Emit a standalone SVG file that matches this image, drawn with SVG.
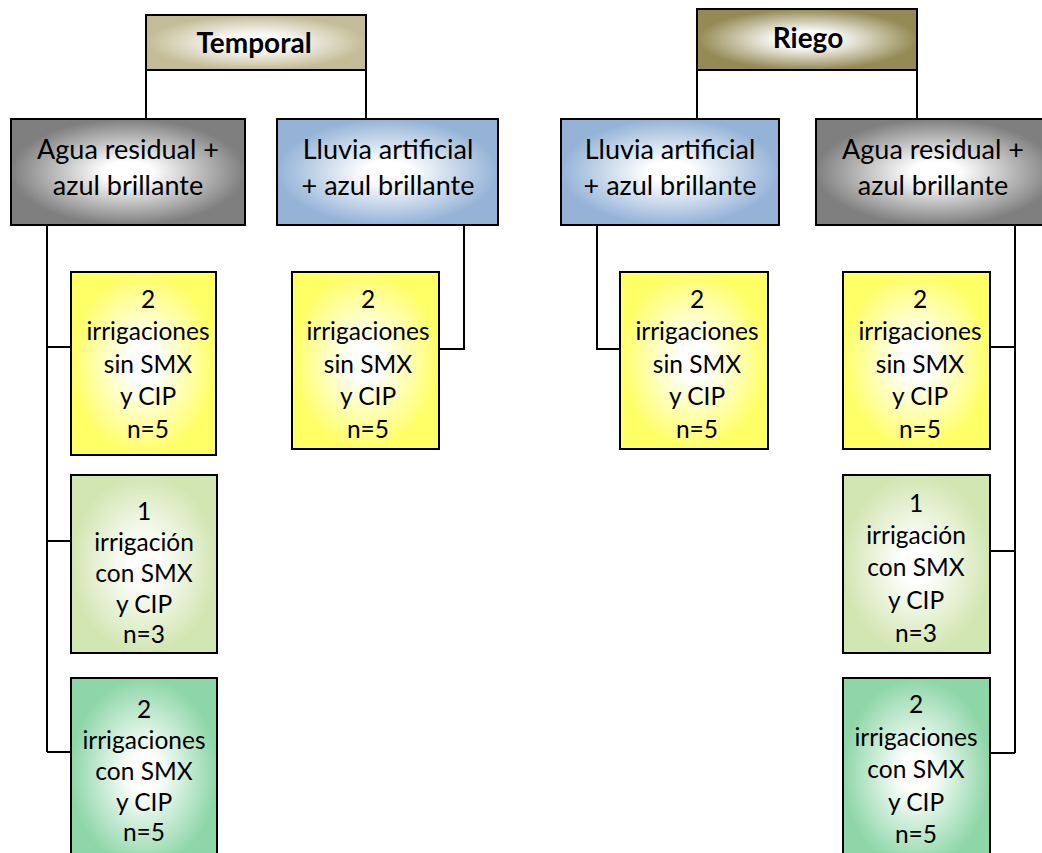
<svg xmlns="http://www.w3.org/2000/svg" width="1042" height="853" viewBox="0 0 1042 853">
<style>
.box{stroke:#000;stroke-width:2}
.conn{fill:none;stroke:#000;stroke-width:2}
text{font-family:Lato,"Open Sans",sans-serif;fill:#000;text-anchor:middle}
.big{font-size:27px}
.small{font-size:24.5px}
.title{font-size:28px;font-weight:bold}
</style>
<defs>
<radialGradient id="gTan" cx="0.5" cy="0.5" r="0.5"><stop offset="0.25" stop-color="#ffffff"/><stop offset="1" stop-color="#c4bc96"/></radialGradient>
<radialGradient id="gOlive" cx="0.5" cy="0.5" r="0.5"><stop offset="0.25" stop-color="#ffffff"/><stop offset="1" stop-color="#948a54"/></radialGradient>
<radialGradient id="gGray" cx="0.5" cy="0.5" r="0.5"><stop offset="0.2" stop-color="#ffffff"/><stop offset="1" stop-color="#7f7f7f"/></radialGradient>
<radialGradient id="gBlue" cx="0.5" cy="0.5" r="0.5"><stop offset="0.2" stop-color="#ffffff"/><stop offset="1" stop-color="#95b3d7"/></radialGradient>
<radialGradient id="gYellow" cx="0.5" cy="0.5" r="0.5"><stop offset="0.2" stop-color="#ffffff"/><stop offset="1" stop-color="#ffff66"/></radialGradient>
<radialGradient id="gLGreen" cx="0.5" cy="0.5" r="0.5"><stop offset="0.2" stop-color="#ffffff"/><stop offset="1" stop-color="#d2e6b2"/></radialGradient>
<radialGradient id="gGreen" cx="0.5" cy="0.5" r="0.5"><stop offset="0.2" stop-color="#ffffff"/><stop offset="1" stop-color="#8ed6a8"/></radialGradient>
</defs>
<g id="connectors">
<path class="conn" d="M146,70 V119 M366,70 V119"/>
<path class="conn" d="M697,70 V119 M917,70 V119"/>
<path class="conn" d="M47,225 V752 M47,347 H71 M47,541 H71 M47,752 H71"/>
<path class="conn" d="M464,225 V349 H439"/>
<path class="conn" d="M597,225 V349 H620"/>
<path class="conn" d="M1015,225 V753 M990,347 H1015 M990,551 H1015 M990,753 H1015"/>
</g>
<g id="temporal"><rect class="box" x="146" y="15" width="220" height="55" fill="url(#gTan)"/><text class="title" x="254" y="53">Temporal</text></g>
<g id="riego"><rect class="box" x="697" y="9" width="220" height="61" fill="url(#gOlive)"/><text class="title" x="808" y="48">Riego</text></g>
<g id="agua-t"><rect class="box" x="11" y="119" width="234" height="106" fill="url(#gGray)"/><text class="big" x="128" y="159">Agua residual +</text><text class="big" x="128" y="195">azul brillante</text></g>
<g id="lluvia-t"><rect class="box" x="277" y="119" width="221" height="106" fill="url(#gBlue)"/><text class="big" x="388" y="159">Lluvia artificial</text><text class="big" x="388" y="195">+ azul brillante</text></g>
<g id="lluvia-r"><rect class="box" x="561" y="119" width="218" height="106" fill="url(#gBlue)"/><text class="big" x="670" y="159">Lluvia artificial</text><text class="big" x="670" y="195">+ azul brillante</text></g>
<g id="agua-r"><rect class="box" x="816" y="119" width="240" height="106" fill="url(#gGray)"/><text class="big" x="933" y="159">Agua residual +</text><text class="big" x="933" y="195">azul brillante</text></g>
<g id="y-agua-t"><rect class="box" x="71" y="272" width="145" height="183" fill="url(#gYellow)"/>
<text class="small" x="148" y="308">2</text><text class="small" x="148" y="340">irrigaciones</text><text class="small" x="148" y="373">sin SMX</text><text class="small" x="148" y="405">y CIP</text><text class="small" x="148" y="438">n=5</text></g>
<g id="y-lluvia-t"><rect class="box" x="292" y="272" width="147" height="177" fill="url(#gYellow)"/>
<text class="small" x="368" y="308">2</text><text class="small" x="368" y="340">irrigaciones</text><text class="small" x="368" y="373">sin SMX</text><text class="small" x="368" y="405">y CIP</text><text class="small" x="368" y="438">n=5</text></g>
<g id="y-lluvia-r"><rect class="box" x="620" y="272" width="148" height="177" fill="url(#gYellow)"/>
<text class="small" x="697" y="308">2</text><text class="small" x="697" y="340">irrigaciones</text><text class="small" x="697" y="373">sin SMX</text><text class="small" x="697" y="405">y CIP</text><text class="small" x="697" y="438">n=5</text></g>
<g id="y-agua-r"><rect class="box" x="843" y="272" width="147" height="177" fill="url(#gYellow)"/>
<text class="small" x="920" y="308">2</text><text class="small" x="920" y="340">irrigaciones</text><text class="small" x="920" y="373">sin SMX</text><text class="small" x="920" y="405">y CIP</text><text class="small" x="920" y="438">n=5</text></g>
<g id="g1-agua-t"><rect class="box" x="71" y="475" width="146" height="178" fill="url(#gLGreen)"/>
<text class="small" x="144" y="520">1</text><text class="small" x="144" y="551">irrigación</text><text class="small" x="144" y="582">con SMX</text><text class="small" x="144" y="613">y CIP</text><text class="small" x="144" y="643">n=3</text></g>
<g id="g2-agua-t"><rect class="box" x="71" y="678" width="146" height="190" fill="url(#gGreen)"/>
<text class="small" x="144" y="718">2</text><text class="small" x="144" y="749">irrigaciones</text><text class="small" x="144" y="780">con SMX</text><text class="small" x="144" y="811">y CIP</text><text class="small" x="144" y="841">n=5</text></g>
<g id="g1-agua-r"><rect class="box" x="843" y="475" width="147" height="178" fill="url(#gLGreen)"/>
<text class="small" x="916" y="512">1</text><text class="small" x="916" y="544">irrigación</text><text class="small" x="916" y="576">con SMX</text><text class="small" x="916" y="609">y CIP</text><text class="small" x="916" y="642">n=3</text></g>
<g id="g2-agua-r"><rect class="box" x="843" y="678" width="147" height="190" fill="url(#gGreen)"/>
<text class="small" x="916" y="713">2</text><text class="small" x="916" y="746">irrigaciones</text><text class="small" x="916" y="778">con SMX</text><text class="small" x="916" y="811">y CIP</text><text class="small" x="916" y="843">n=5</text></g>
</svg>
